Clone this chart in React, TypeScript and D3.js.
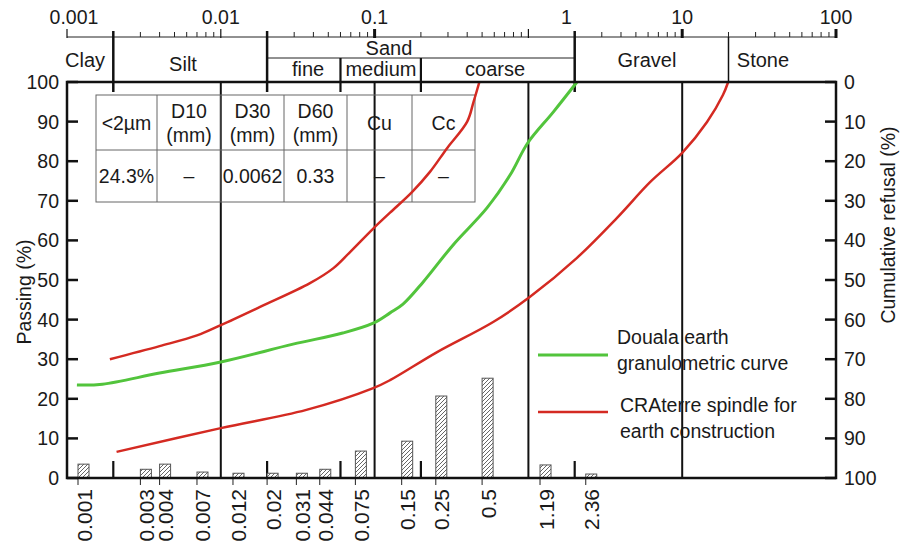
import React from 'react';
import * as d3 from 'd3';

// top (grain size) axis
const topTicks = [0.001, 0.01, 0.1, 1, 10, 100];
const topTickLabels = ['0.001', '0.01', '0.1', '1', '10', '100'];
const boldTopTicks = [0.1, 10, 100];

// soil classes
const mainBounds = [0.002, 0.02, 2];
const stoneBound = 20;
const sandBounds = [0.06, 0.2];
const classNames = ['Clay', 'Silt', 'Gravel', 'Stone'];
const classAt = [0.00131, 0.00568, 5.9, 33.5];
const sandNames = ['fine', 'medium', 'coarse'];
const sandAt = [0.0369, 0.11, 0.607];

// sieve histogram (% retained)
const sieveSizes = [0.001, 0.003, 0.004, 0.007, 0.012, 0.02, 0.031, 0.044, 0.075, 0.15, 0.25, 0.5, 1.19, 2.36];
const sieveLabels = ['0.001', '0.003', '0.004', '0.007', '0.012', '0.02', '0.031', '0.044', '0.075', '0.15', '0.25', '0.5', '1.19', '2.36'];
const retained = [3.5, 2.2, 3.5, 1.5, 1.2, 1.2, 1.2, 2.2, 6.8, 9.3, 20.7, 25.2, 3.3, 1.0];

// Douala earth curve
const doualaSize = [0.00116, 0.0017, 0.004, 0.01, 0.0295, 0.062, 0.098, 0.126, 0.153, 0.207, 0.323, 0.538, 0.76, 0.99, 1.45, 2.07];
const doualaPassing = [23.5, 23.7, 26.5, 29.3, 33.8, 36.6, 39.1, 41.7, 43.9, 49.5, 58.8, 68.2, 76.5, 84.6, 92.4, 100];

// CRAterre spindle, upper and lower limits
const upperSize = [0.0019, 0.004, 0.007, 0.01, 0.018, 0.038, 0.054, 0.069, 0.098, 0.126, 0.175, 0.229, 0.296, 0.4, 0.44, 0.48];
const upperPassing = [30, 33.3, 36, 38.6, 43.2, 49.2, 53, 57, 63, 67, 72.2, 77.3, 83.3, 90, 95, 100];
const lowerSize = [0.0021, 0.01, 0.036, 0.098, 0.126, 0.255, 0.59, 1.02, 2.07, 3.77, 6.18, 10, 14.5, 18.4, 19.9];
const lowerPassing = [6.6, 12.6, 17.2, 22.7, 24.7, 31.8, 39.4, 45.7, 55.6, 65.7, 74.7, 82.1, 89.9, 96.7, 100];

const passTicks = [0, 10, 20, 30, 40, 50, 60, 70, 80, 90, 100];

const tableHead = [['<2µm'], ['D10', '(mm)'], ['D30', '(mm)'], ['D60', '(mm)'], ['Cu'], ['Cc']];
const tableRow = ['24.3%', '–', '0.0062', '0.33', '–', '–'];

const FONT = '"Liberation Sans", Arial, sans-serif';
const RED = '#d42a22';
const GREEN = '#52c43c';

export default function App() {
  const left = 67, right = 836, top = 82, bottom = 478;
  const axisY = 37, sandY = 58;

  const x = d3.scaleLog().domain([0.001, 100]).range([left, right]);
  const y = d3.scaleLinear().domain([0, 100]).range([bottom, top]);
  const refusal = d3.scaleLinear().domain([0, 100]).range([top, bottom]);

  const line = d3.line<[number, number]>()
    .x(d => x(d[0]))
    .y(d => y(d[1]))
    .curve(d3.curveCatmullRom.alpha(0.5));

  const minorTicks: number[] = [];
  for (let e = -3; e < 2; e++) {
    for (let k = 2; k <= 9; k++) minorTicks.push(k * Math.pow(10, e));
  }

  const colX = [96, 157, 221, 284, 347, 412, 475];
  const rowY = [95, 150, 202];

  const barW = 11;

  return (
    <svg width={900} height={549} style={{ position: 'absolute', left: 0, top: 0, background: '#fff' }}
      fontFamily={FONT} fill="#1a1a1a">
      <defs>
        <pattern id="hatch" patternUnits="userSpaceOnUse" width={4} height={4}>
          <rect width={4} height={4} fill="#fff" />
          <path d="M-1,1 l2,-2 M0,4 l4,-4 M3,5 l2,-2" stroke="#555" strokeWidth={0.9} />
        </pattern>
      </defs>

      {/* top axis */}
      <line x1={left} x2={right} y1={axisY} y2={axisY} stroke="#222" strokeWidth={1} />
      {minorTicks.map((t, i) => (
        <line key={'mt' + i} x1={x(t)} x2={x(t)} y1={axisY - 5} y2={axisY} stroke="#222" strokeWidth={1} />
      ))}
      {topTicks.map((t, i) => (
        <line key={'tt' + i} x1={x(t)} x2={x(t)} y1={axisY - 8} y2={axisY + 1}
          stroke="#111" strokeWidth={boldTopTicks.includes(t) ? 3 : 1.2} />
      ))}
      {/* the original sets the "1" label beside the gravel boundary */}
      {topTicks.map((t, i) => (
        <text key={'tl' + i} x={x(t) + (t === 1 ? 38 : t === 0.001 ? 7 : 0)} y={17} fontSize={19.5}
          textAnchor="middle" dominantBaseline="central">{topTickLabels[i]}</text>
      ))}

      {/* class band */}
      <line x1={x(0.02)} x2={x(2)} y1={sandY} y2={sandY} stroke="#222" strokeWidth={1} />
      {mainBounds.map((b, i) => (
        <line key={'mb' + i} x1={x(b)} x2={x(b)} y1={axisY - 6} y2={top + 10} stroke="#111" strokeWidth={2.5} />
      ))}
      <line x1={x(stoneBound)} x2={x(stoneBound)} y1={axisY} y2={top} stroke="#111" strokeWidth={1.5} />
      {sandBounds.map((b, i) => (
        <line key={'sb' + i} x1={x(b)} x2={x(b)} y1={sandY} y2={top + 10} stroke="#111" strokeWidth={2.2} />
      ))}
      {classNames.map((n, i) => (
        <text key={'cn' + i} x={x(classAt[i])} y={i === 1 ? 64 : 60} fontSize={20}
          textAnchor="middle" dominantBaseline="central">{n}</text>
      ))}
      <text x={x(0.124)} y={48} fontSize={20} textAnchor="middle" dominantBaseline="central">Sand</text>
      {sandNames.map((n, i) => (
        <text key={'sn' + i} x={x(sandAt[i])} y={69} fontSize={20}
          textAnchor="middle" dominantBaseline="central">{n}</text>
      ))}

      {/* decade grid lines */}
      {[0.01, 0.1, 1, 10].map((t, i) => (
        <line key={'g' + i} x1={x(t)} x2={x(t)} y1={top} y2={bottom} stroke="#111" strokeWidth={2} />
      ))}
      {/* short class ticks at the bottom */}
      {[...mainBounds, ...sandBounds].map((b, i) => (
        <line key={'bt' + i} x1={x(b)} x2={x(b)} y1={bottom - 17} y2={bottom} stroke="#111" strokeWidth={2.2} />
      ))}

      {/* table */}
      <g stroke="#666" strokeWidth={1} fill="none">
        <rect x={colX[0]} y={rowY[0]} width={colX[6] - colX[0]} height={rowY[2] - rowY[0]} />
        <line x1={colX[0]} x2={colX[6]} y1={rowY[1]} y2={rowY[1]} />
        {colX.slice(1, 6).map((c, i) => (
          <line key={'tc' + i} x1={c} x2={c} y1={rowY[0]} y2={rowY[2]} />
        ))}
      </g>
      {tableHead.map((lines, i) => {
        const cx = (colX[i] + colX[i + 1]) / 2;
        const cy = (rowY[0] + rowY[1]) / 2;
        return lines.map((s, j) => (
          <text key={'th' + i + j} x={cx} y={cy + (lines.length === 1 ? 0 : (j - 0.5) * 24)} fontSize={19.5}
            textAnchor="middle" dominantBaseline="central">{s}</text>
        ));
      })}
      {tableRow.map((s, i) => (
        <text key={'tr' + i} x={(colX[i] + colX[i + 1]) / 2} y={(rowY[1] + rowY[2]) / 2} fontSize={19.5}
          textAnchor="middle" dominantBaseline="central">{s}</text>
      ))}

      {/* histogram bars */}
      {sieveSizes.map((s, i) => {
        const bx = Math.max(x(s), left + 11);
        return (
          <g key={'bar' + i}>
            <rect x={bx} y={y(retained[i])} width={barW} height={bottom - y(retained[i])}
              fill="url(#hatch)" stroke="#555" strokeWidth={1} />
            <line x1={bx} x2={bx} y1={bottom} y2={bottom + 7} stroke="#222" strokeWidth={1} />
            <text transform={`translate(${bx + 6},${bottom + 11}) rotate(-90)`} fontSize={21}
              textAnchor="end" dominantBaseline="central">{sieveLabels[i]}</text>
          </g>
        );
      })}

      {/* curves */}
      <path d={line(upperSize.map((d, i) => [d, upperPassing[i]]))!} fill="none" stroke={RED} strokeWidth={2.5} />
      <path d={line(lowerSize.map((d, i) => [d, lowerPassing[i]]))!} fill="none" stroke={RED} strokeWidth={2.5} />
      <path d={line(doualaSize.map((d, i) => [d, doualaPassing[i]]))!} fill="none" stroke={GREEN} strokeWidth={3} />

      {/* plot frame */}
      <rect x={left} y={top} width={right - left} height={bottom - top} fill="none" stroke="#111" strokeWidth={2.5} />

      {/* left axis */}
      {passTicks.map(t => (
        <g key={'ly' + t}>
          <line x1={left} x2={left + 11} y1={y(t)} y2={y(t)} stroke="#111" strokeWidth={2.5} />
          <text x={left - 8} y={y(t)} fontSize={19.5} textAnchor="end" dominantBaseline="central">{t}</text>
        </g>
      ))}
      <text transform={`translate(24,${(top + bottom) / 2 + 12}) rotate(-90)`} fontSize={19.5}
        textAnchor="middle" dominantBaseline="central">Passing (%)</text>

      {/* right axis */}
      {passTicks.map(t => (
        <g key={'ry' + t}>
          <line x1={right - 11} x2={right} y1={refusal(t)} y2={refusal(t)} stroke="#111" strokeWidth={2.5} />
          <text x={right + 8} y={refusal(t)} fontSize={19.5} textAnchor="start" dominantBaseline="central">{t}</text>
        </g>
      ))}
      <text transform={`translate(888,225) rotate(-90)`} fontSize={19.5}
        textAnchor="middle" dominantBaseline="central">Cumulative refusal (%)</text>

      {/* legend */}
      <line x1={538} x2={608} y1={355} y2={355} stroke={GREEN} strokeWidth={3} />
      <text x={617} y={337} fontSize={19.5} dominantBaseline="central">Douala earth</text>
      <text x={617} y={363} fontSize={19.5} dominantBaseline="central">granulometric curve</text>
      <line x1={538} x2={608} y1={412} y2={412} stroke={RED} strokeWidth={2.5} />
      <text x={620} y={405} fontSize={19.5} dominantBaseline="central">CRAterre spindle for</text>
      <text x={620} y={431} fontSize={19.5} dominantBaseline="central">earth construction</text>
    </svg>
  );
}
